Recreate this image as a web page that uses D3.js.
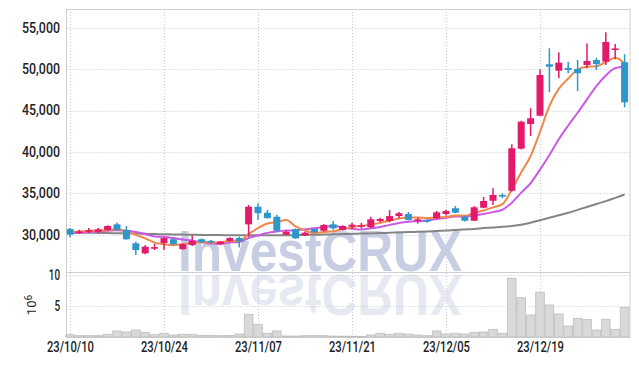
<!DOCTYPE html>
<html><head><meta charset="utf-8">
<script src="https://cdn.jsdelivr.net/npm/d3@7"></script>
<style>body{margin:0;background:#fff}svg{display:block}</style>
</head><body><svg id="c" width="639" height="366"></svg>
<script>
const dates = ["2023-10-10","2023-10-11","2023-10-12","2023-10-13","2023-10-16","2023-10-17","2023-10-18","2023-10-19","2023-10-20","2023-10-23","2023-10-24","2023-10-25","2023-10-26","2023-10-27","2023-10-30","2023-10-31",
"2023-11-01","2023-11-02","2023-11-03","2023-11-06","2023-11-07","2023-11-08","2023-11-09","2023-11-10","2023-11-13","2023-11-14","2023-11-15","2023-11-16","2023-11-17","2023-11-20","2023-11-21","2023-11-22","2023-11-23","2023-11-24","2023-11-27","2023-11-28","2023-11-29","2023-11-30",
"2023-12-01","2023-12-04","2023-12-05","2023-12-06","2023-12-07","2023-12-08","2023-12-11","2023-12-12","2023-12-13","2023-12-14","2023-12-15","2023-12-18","2023-12-19","2023-12-20","2023-12-21","2023-12-22","2023-12-26","2023-12-27","2023-12-28",
"2024-01-02","2024-01-03","2024-01-04"];
const open  = [30700,30250,30350,30350,30550,31250,30570,28960,27750,28450,29000,29450,28250,28750,29450,29250,28850,29250,29600,31250,33380,32650,32170,30000,30650,29930,30690,30480,31250,30570,30970,31100,30900,31650,31650,32250,32500,31700,31780,31980,32500,33190,32170,31690,33260,34100,34800,35300,40390,43370,44370,50580,49810,50140,50020,50500,51100,50900,52400,50830];
const high  = [30800,30600,30800,30800,31150,31450,31050,29150,28750,28900,29700,29550,28950,29900,29550,29350,29250,29700,29750,33600,33800,32990,32380,30500,30750,30400,30750,31300,31650,31150,31450,31450,32170,32050,32990,32750,32750,32050,31850,32850,33000,33460,32300,33450,34550,35600,35000,40920,43770,45270,49980,52520,52040,50900,51100,53100,51380,54450,53040,51790];
const low   = [29700,30100,30200,30200,30500,30500,29400,27550,27650,28150,28150,28700,28200,28650,29000,28950,28800,29150,28450,29750,31800,31950,30400,29950,29500,29850,30200,30400,30600,30500,30700,30750,30800,31500,31500,32000,31700,31350,31450,31900,32300,32600,31600,31650,33200,33600,34400,35200,40300,41920,44300,47200,48890,49500,47360,50100,49900,50500,51200,45390];
const close = [30000,30400,30550,30650,31050,30570,29450,28150,28550,28500,29600,28850,28850,29250,29100,29100,29150,29600,29200,33380,32600,32000,30480,30360,29560,30240,30290,31170,30770,31050,31210,31150,31860,31900,32250,32590,31780,31850,31570,32700,32860,32660,31690,33310,34070,34800,34600,40440,43650,44060,49290,50290,50780,49900,49500,50980,50620,53280,52500,45990];
const volume = [0.37,0.21,0.21,0.21,0.44,0.97,0.81,1.13,0.76,0.37,0.6,0.32,0.44,0.44,0.27,0.27,0.2,0.25,0.48,3.66,2.05,0.6,0.97,0.16,0.16,0.21,0.27,0.21,0.16,0.13,0.13,0.1,0.32,0.6,0.44,0.6,0.48,0.32,0.21,0.97,0.48,0.6,0.48,0.76,0.81,1.24,0.6,9.47,6.34,3.55,7.21,5.16,3.71,1.77,3.02,2.85,1.13,2.85,1.24,4.79];
const ma5  = [30360,30390,30450,30500,30530,30644,30454,29974,29554,29044,28850,28730,28870,29010,29130,29030,29090,29240,29230,30086,30786,31356,31532,31764,31000,30528,30186,30324,30406,30704,30898,31070,31208,31434,31674,31950,32076,32074,32008,32098,32152,32328,32296,32644,32918,33306,33694,35444,37512,39510,42408,45546,47614,48864,49952,50290,50356,50856,51376,50674];
const ma10 = [30180,30250,30320,30400,30480,30550,30480,30320,30080,29787,29747,29592,29422,29282,29087,28940,28910,29055,29120,29608,29908,30223,30386,30497,30543,30657,30771,30928,31085,30852,30713,30628,30766,30920,31189,31424,31573,31641,31721,31886,32051,32202,32185,32326,32508,32729,33011,33870,35078,36214,37857,39620,41529,43188,44731,46349,47951,49235,50120,50313];
const ma60 = [30270,30250,30230,30220,30200,30180,30160,30140,30110,30080,30050,30030,30010,29990,29970,29960,29950,29940,29930,29920,29920,29920,29930,29940,29950,29970,29990,30010,30040,30070,30100,30130,30160,30200,30240,30280,30320,30360,30400,30450,30500,30580,30640,30700,30800,30880,30950,31050,31200,31450,31750,32050,32350,32650,33000,33350,33700,34050,34450,34850];
const priceTicks = [30000,35000,40000,45000,50000,55000];
const volTicks = [5,10];
const xTickDates = ["2023-10-10","2023-10-24","2023-11-07","2023-11-21","2023-12-05","2023-12-19"];
const xTickLabels = ["23/10/10","23/10/24","23/11/07","23/11/21","23/12/05","23/12/19"];

const FONT = "Roboto, 'Liberation Sans', sans-serif";
const UP = "#e3196c", DOWN = "#2e96c8";
const svg = d3.select("#c");
const L = 66.5, R = 630, T = 9, SEP = 272, B = 337.5;
const x = d3.scalePoint().domain(dates).range([70, 624.6]);
const y = d3.scaleLinear().domain([30000, 55000]).range([234.7, 27.7]);
const yv = d3.scaleLinear().domain([0, 10]).range([337, 275]);

const defs = svg.append("defs");
defs.append("clipPath").attr("id","pc").append("rect").attr("x",L).attr("y",T).attr("width",R-L).attr("height",SEP-T);
defs.append("clipPath").attr("id","vc").append("rect").attr("x",L).attr("y",SEP).attr("width",R-L).attr("height",B-SEP);

// watermark
const wm = svg.append("g");
wm.append("g").attr("clip-path","url(#vc)").append("text")
  .attr("transform","translate(320,546) scale(1,-1)")
  .attr("x",0).attr("y",271).attr("text-anchor","middle")
  .attr("font-family","'Liberation Sans', sans-serif").attr("font-weight","bold")
  .attr("font-size",58).attr("textLength",284).attr("lengthAdjust","spacingAndGlyphs")
  .attr("fill","#e6e9f2").text("InvestCRUX");
wm.append("g").attr("clip-path","url(#pc)").append("text")
  .attr("x",320).attr("y",271).attr("text-anchor","middle")
  .attr("font-family","'Liberation Sans', sans-serif").attr("font-weight","bold")
  .attr("font-size",58).attr("textLength",284).attr("lengthAdjust","spacingAndGlyphs")
  .attr("fill","#c7cee3").text("InvestCRUX");

// grid
const grid = svg.append("g").attr("stroke","#c3c9de").attr("stroke-width",1).attr("stroke-dasharray","1,2");
grid.selectAll("line.h").data(priceTicks).join("line")
  .attr("x1",L).attr("x2",R).attr("y1",d=>Math.round(y(d))+0.5).attr("y2",d=>Math.round(y(d))+0.5);
grid.selectAll("line.v").data(xTickDates).join("line")
  .attr("y1",T).attr("y2",B).attr("x1",d=>Math.round(x(d))+0.5).attr("x2",d=>Math.round(x(d))+0.5);
grid.selectAll("line.hv").data(volTicks).join("line")
  .attr("x1",L).attr("x2",R).attr("y1",d=>Math.round(yv(d))+0.5).attr("y2",d=>Math.round(yv(d))+0.5);

// frame
const fr = svg.append("g").attr("stroke","#cfcfcf").attr("stroke-width",1).attr("fill","none");
fr.append("line").attr("x1",L).attr("x2",R).attr("y1",T+0.5).attr("y2",T+0.5);
fr.append("line").attr("x1",L).attr("x2",L).attr("y1",T).attr("y2",B);
fr.append("line").attr("x1",R).attr("x2",R).attr("y1",T).attr("y2",B);
fr.append("line").attr("x1",L).attr("x2",R).attr("y1",SEP+0.5).attr("y2",SEP+0.5);
fr.append("line").attr("x1",L).attr("x2",R).attr("y1",B).attr("y2",B);

// volume
const idx = d3.range(dates.length);
svg.append("g").selectAll("rect").data(idx).join("rect")
  .attr("x",i=>x(dates[i])-4.3).attr("width",8.6)
  .attr("y",i=>yv(volume[i])).attr("height",i=>yv(0)-yv(volume[i]))
  .attr("fill","#d9d9d9").attr("stroke","#bdbdbd").attr("stroke-width",0.8);

// MAs
const pane = svg.append("g").attr("clip-path","url(#pc)");
const mk = arr => d3.line().x((d,i)=>x(dates[i])).y(d=>y(d)).curve(d3.curveMonotoneX)(arr);
pane.append("path").attr("d",mk(ma60)).attr("fill","none").attr("stroke","#858585").attr("stroke-width",2);
pane.append("path").attr("d",mk(ma10)).attr("fill","none").attr("stroke","#c95ae6").attr("stroke-width",2);
pane.append("path").attr("d",mk(ma5)).attr("fill","none").attr("stroke","#f0874b").attr("stroke-width",2);

// candles
const cg = pane.append("g").selectAll("g").data(idx).join("g");
cg.append("line").attr("x1",i=>x(dates[i])).attr("x2",i=>x(dates[i]))
  .attr("y1",i=>y(high[i])).attr("y2",i=>y(low[i]))
  .attr("stroke",i=>close[i]>=open[i]?UP:DOWN).attr("stroke-width",1.5);
cg.append("rect").attr("x",i=>x(dates[i])-3.5).attr("width",7)
  .attr("y",i=>y(Math.max(open[i],close[i])))
  .attr("height",i=>Math.max(1.6, Math.abs(y(open[i])-y(close[i]))))
  .attr("fill",i=>close[i]>=open[i]?UP:DOWN);

// axes
function styleAxis(widthOf){
  return g => {
    g.select(".domain").remove();
    g.selectAll("text").attr("font-family",FONT).attr("font-weight",500).attr("font-size",14).attr("fill","#222")
      .attr("textLength",function(){ return widthOf(this.textContent); })
      .attr("lengthAdjust","spacingAndGlyphs");
  };
}
svg.append("g").attr("transform",`translate(${L},0)`)
  .call(d3.axisLeft(y).tickValues(priceTicks).tickFormat(d3.format(",")).tickSize(0).tickPadding(6.5))
  .call(styleAxis(()=>38));
svg.append("g").attr("transform",`translate(${L},0)`)
  .call(d3.axisLeft(yv).tickValues(volTicks).tickFormat(d3.format("d")).tickSize(0).tickPadding(6.5))
  .call(styleAxis(t=>t.length*5.6));
svg.append("g").attr("transform",`translate(0,${B})`)
  .call(d3.axisBottom(x).tickValues(xTickDates).tickFormat((d,i)=>xTickLabels[i]).tickSize(0).tickPadding(5))
  .call(styleAxis(()=>47));

// exponent label
const ex = svg.append("text").attr("transform","translate(36,305) rotate(-90)")
  .attr("text-anchor","middle").attr("font-family",FONT).attr("font-size",13).attr("fill","#222");
ex.append("tspan").text("10");
ex.append("tspan").attr("dy",-4).attr("font-size",10).text("6");
</script></body></html>
